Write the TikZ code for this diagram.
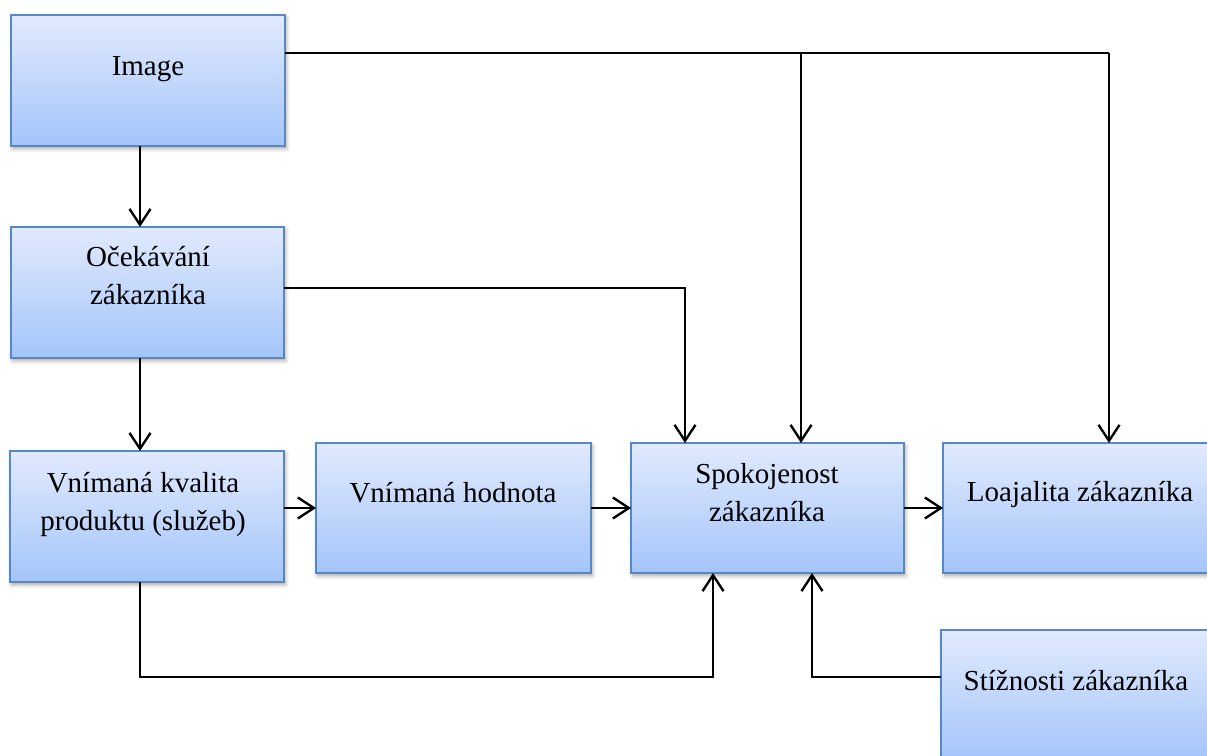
\documentclass[tikz,border=0pt]{standalone}
\usepackage{fontspec}
\setmainfont{Liberation Serif}
\usetikzlibrary{arrows.meta,shadows.blur,calc}
\definecolor{boxtop}{RGB}{225,234,253}
\definecolor{boxbottom}{RGB}{164,197,250}
\definecolor{boxline}{RGB}{86,135,200}
\tikzset{
  box/.style={draw=boxline, line width=0.9pt, rectangle,
    top color=boxtop, bottom color=boxbottom,
    blur shadow={shadow xshift=0.9pt, shadow yshift=-1.6pt,
      shadow blur radius=2.2pt, shadow opacity=35},
    inner sep=0pt, outer sep=0pt},
  % two-line labels sit on the baseline of their last line
  lbl/.style={font=\fontsize{16.5}{21.8}\selectfont, align=center, anchor=base, inner sep=0pt},
  conn/.style={line width=1.35pt, black},
  arr/.style={conn, -{Straight Barb[length=0.32cm, width=0.42cm, line width=1.35pt]}},
}
\begin{document}
\begin{tikzpicture}[x=0.02cm, y=-0.02cm]
  \useasboundingbox (0,0) rectangle (1207,756);

  % boxes
  \node[box, minimum width=5.48cm, minimum height=2.62cm] (img) at (148,80.5) {};
  \node[box, minimum width=5.46cm, minimum height=2.62cm] (oce) at (147.5,292.5) {};
  \node[box, minimum width=5.48cm, minimum height=2.62cm] (kva) at (147,516.5) {};
  \node[box, minimum width=5.50cm, minimum height=2.60cm] (hod) at (453.5,508) {};
  \node[box, minimum width=5.46cm, minimum height=2.60cm] (spo) at (767.5,508) {};
  \node[box, minimum width=5.48cm, minimum height=2.60cm] (loa) at (1080,508) {};
  \node[box, minimum width=5.40cm, minimum height=2.60cm] (sti) at (1076,695) {};

  % texts
  \node[lbl] (timg) at (148,76) {Image};
  \node[lbl] (toce) at (148,305) {Očekávání\\zákazníka};
  \node[lbl] (tkva) at (143,531) {Vnímaná kvalita\\produktu (služeb)};
  \node[lbl] (thod) at (453,503) {Vnímaná hodnota};
  \node[lbl] (tspo) at (767,522) {Spokojenost\\zákazníka};
  \node[lbl] (tloa) at (1080,502) {Loajalita zákazníka};
  \node[lbl] (tsti) at (1076,690) {Stížnosti zákazníka};

  % junctions of the connectors
  \coordinate (j1) at (801,53);
  \coordinate (j2) at (1109,53);
  \coordinate (j3) at (685,288);
  \coordinate (j4) at (140,677);
  \coordinate (j5) at (713,677);
  \coordinate (j6) at (812,677);

  % vertical chain on the left
  \draw[arr] (img.south -| j4) -- (oce.north -| j4);
  \draw[arr] (oce.south -| j4) -- (kva.north -| j4);

  % horizontal chain
  \draw[arr] (hod.west -| kva.east) -- (hod.west);
  \draw[arr] (hod.east) -- (spo.west);
  \draw[arr] (spo.east) -- (loa.west);

  % image feeds satisfaction and loyalty
  \draw[conn] (img.east |- j1) -- (j2);
  \draw[arr] (j2) -- (j2 |- loa.north);
  \draw[arr] (j1) -- (j1 |- spo.north);

  % expectations feed satisfaction
  \draw[arr] (oce.east |- j3) -- (j3) -- (j3 |- spo.north);

  % perceived quality feeds satisfaction from below
  \draw[arr] (kva.south -| j4) -- (j4) -- (j5) -- (j5 |- spo.south);

  % complaints feed satisfaction from below
  \draw[arr] (sti.west |- j6) -- (j6) -- (j6 |- spo.south);
\end{tikzpicture}
\end{document}
